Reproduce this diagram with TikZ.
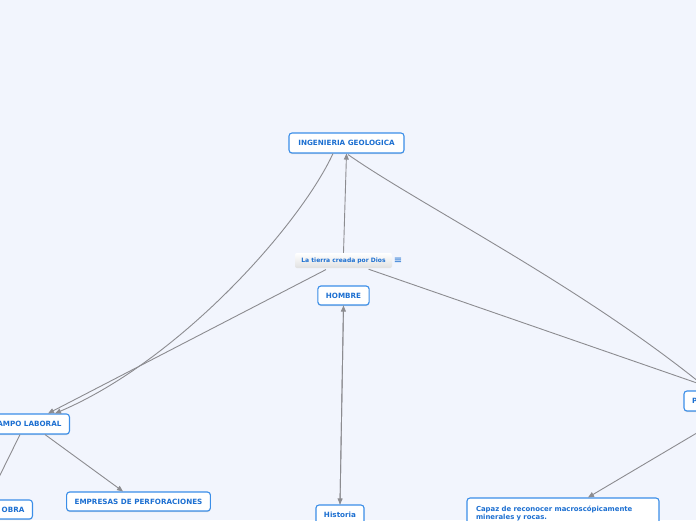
\documentclass[tikz,border=0pt]{standalone}
\usepackage{fontspec}
\setmainfont{DejaVu Sans}
\usepackage{tikz}
\usetikzlibrary{arrows.meta,positioning,calc,shadows}
\usepackage{xcolor}
\definecolor{mbg}{HTML}{F2F5FD}
\definecolor{mblue}{HTML}{1C6FD1}
\definecolor{mframe}{HTML}{3B8EE8}
\definecolor{mlink}{HTML}{8C8C90}
\tikzset{
  topic/.style   = {draw=mframe, line width=1.1pt, fill=white, rounded corners=3pt,
                    text=mblue, font=\fontsize{7.2}{8}\selectfont\bfseries,
                    minimum height=20pt, inner xsep=8pt, inner ysep=0pt,
                    drop shadow={shadow xshift=0pt, shadow yshift=-1.2pt, opacity=0.25, fill=gray}},
  centre/.style  = {rounded corners=2pt, top color=white, bottom color=black!12,
                    text=mblue, font=\fontsize{6}{7}\selectfont\bfseries,
                    minimum width=97pt, minimum height=15pt, inner sep=0pt},
  menuicon/.style= {text=mblue, font=\fontsize{10}{10}\selectfont, inner sep=0pt},
  link/.style    = {draw=mlink, line width=0.9pt, -{Triangle[length=6pt,width=5pt]}},
}

\begin{document}
\begin{tikzpicture}[x=1pt,y=-1pt]
\useasboundingbox (0,0) rectangle (696,520);
\fill[mbg] (0,0) rectangle (696,520);
\clip (0,0) rectangle (696,520);
% ---- centre and upper topics ----
\node[topic, minimum width=115pt] (ing) at (346.5,143) {INGENIERIA GEOLOGICA};
\node[centre] (tierra) at (343.5,260.5) {La tierra creada por Dios};
\node[menuicon] (menu) at (398,260.5) {≡};
\node[topic, minimum width=51pt, minimum height=19pt] (hombre) at (343.5,295.5) {HOMBRE};
% ---- left branch ----
\node[topic, anchor=east] (campo) at (70,424) {CAMPO LABORAL};
\node[topic, minimum width=141pt, minimum height=19pt] (empresas) at (138.5,501.5) {EMPRESAS DE PERFORACIONES};
\node[topic, anchor=east, minimum height=19pt] (obra) at (33,509.5) {DE OBRA};
% ---- lower and right branch ----
\node[topic, minimum width=48pt, minimum height=19pt] (historia) at (340,514.5) {Historia};
\node[topic, minimum width=98pt, text width=82pt, align=left] (perfil) at (733,401) {P};
\node[topic, minimum width=192pt, text width=174pt, align=left, minimum height=30pt,
      font=\fontsize{6.9}{8}\selectfont\bfseries] (capaz) at (563,513)
      {Capaz de reconocer macroscópicamente\\minerales y rocas.};
% ---- connectors ----
\draw[link] (tierra.north) -- (ing.south);
\draw[link, shorten <=3pt] (tierra) -- ($(campo.north east)+(-22,0)$);
\draw[link] ($(ing.south)+(-13.5,0)$) .. controls (300,225) and (180,360) .. ($(campo.north east)+(-15,0)$);
\draw[link] ($(ing.south)+(1.5,1)$) .. controls (420,205) and (580,285) .. ($(perfil.north west)+(26,0)$);
\draw[link, shorten <=3pt] (tierra) -- ($(perfil.north west)+(35,0)$);
\draw[link] (hombre.south) -- (historia.north);
\draw[link] (historia.north) -- (hombre.south);
\draw[link] ($(campo.south east)+(-50,0)$) -- ($(obra.north east)+(-45,0)$);
\draw[link] ($(campo.south east)+(-25,0)$) -- ($(empresas.north)+(-15.5,0)$);
\draw[link] (perfil.south) -- ($(capaz.north)+(25,0)$);
\end{tikzpicture}
\end{document}
